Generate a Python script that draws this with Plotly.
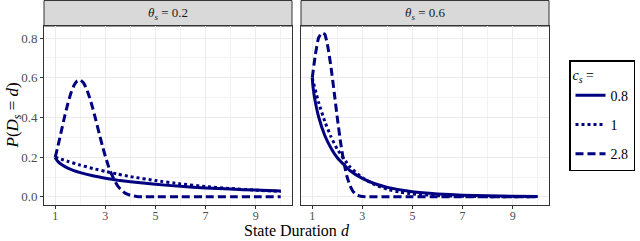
import plotly.graph_objects as go

# ---------------- data ----------------
# theta_s = 0.2 panel
d_l_08 = [1, 1.02, 1.05, 1.1, 1.25, 1.5, 2, 2.5, 3, 3.5, 4, 5, 6, 7, 8, 9, 10]
p_l_08 = [0.200, 0.193, 0.187, 0.179, 0.163, 0.145, 0.122, 0.106, 0.094, 0.084,
          0.076, 0.063, 0.053, 0.045, 0.039, 0.034, 0.029]
d_l_1 = [1, 1.5, 2, 2.5, 3, 3.5, 4, 5, 6, 7, 8, 9, 10]
p_l_1 = [0.200, 0.179, 0.160, 0.143, 0.128, 0.1145, 0.102, 0.082, 0.0655, 0.052,
         0.042, 0.034, 0.027]
d_l_28 = [1, 1.125, 1.25, 1.375, 1.5, 1.625, 1.75, 1.875, 2, 2.125, 2.25, 2.375,
          2.5, 2.625, 2.75, 2.875, 3, 3.125, 3.25, 3.375, 3.5, 3.625, 3.75, 3.875,
          4, 4.25, 4.5, 5, 6, 7, 8, 9, 10]
p_l_28 = [0.200, 0.266, 0.336, 0.406, 0.469, 0.523, 0.562, 0.584, 0.589, 0.575,
          0.544, 0.499, 0.445, 0.384, 0.321, 0.260, 0.204, 0.154, 0.113, 0.080,
          0.054, 0.036, 0.0225, 0.0137, 0.0079, 0.0024, 0.0006, 0, 0, 0, 0, 0, 0]

# theta_s = 0.6 panel
d_r_08 = [1, 1.02, 1.05, 1.1, 1.25, 1.5, 1.75, 2, 2.5, 3, 3.5, 4, 5, 6, 7, 8, 9, 10]
p_r_08 = [0.600, 0.567, 0.534, 0.493, 0.405, 0.309, 0.245, 0.197, 0.133, 0.093,
          0.066, 0.048, 0.026, 0.015, 0.0085, 0.005, 0.003, 0.0018]
d_r_1 = [1, 1.25, 1.5, 1.75, 2, 2.5, 3, 3.5, 4, 4.5, 5, 6, 7, 8, 9, 10]
p_r_1 = [0.600, 0.477, 0.380, 0.302, 0.240, 0.152, 0.096, 0.061, 0.038, 0.024,
         0.015, 0.006, 0.0025, 0.001, 0.0004, 0.0002]
d_r_28 = [1, 1.125, 1.25, 1.375, 1.5, 1.625, 1.75, 1.875, 2, 2.125, 2.25, 2.375,
          2.5, 2.625, 2.75, 2.875, 3, 3.25, 3.5, 4, 5, 6, 7, 8, 9, 10]
p_r_28 = [0.600, 0.718, 0.801, 0.826, 0.819, 0.754, 0.652, 0.527, 0.398, 0.279,
          0.181, 0.107, 0.058, 0.028, 0.012, 0.005, 0.0017, 0.0001, 0, 0, 0, 0,
          0, 0, 0, 0]

panel_titles = ["<i>θ<sub>s</sub></i> = 0.2", "<i>θ<sub>s</sub></i> = 0.6"]
legend_labels = ["0.8", "1", "2.8"]
x_ticks = [1, 3, 5, 7, 9]
y_ticks = [0.0, 0.2, 0.4, 0.6, 0.8]
y_tick_labels = ["0.0", "0.2", "0.4", "0.6", "0.8"]

# ---------------- figure ----------------
W, H = 640, 241
ml, mr, mt, mb = 44, 91, 26, 36
plot_w = W - ml - mr
plot_h = H - mt - mb
gap = 9
half = (plot_w - gap) / 2
dom_l = [0, half / plot_w]
dom_r = [(half + gap) / plot_w, 1]

NAVY = "#000080"
FONT = "Liberation Serif"
dashes = ["solid", "3px,3px", "8px,4px"]

fig = go.Figure()
series = [
    ("x", "y", d_l_08, p_l_08, 0, True),
    ("x", "y", d_l_1, p_l_1, 1, True),
    ("x", "y", d_l_28, p_l_28, 2, True),
    ("x2", "y2", d_r_08, p_r_08, 0, False),
    ("x2", "y2", d_r_1, p_r_1, 1, False),
    ("x2", "y2", d_r_28, p_r_28, 2, False),
]
for xa, ya, xs, ys, k, show in series:
    fig.add_trace(go.Scatter(
        x=xs, y=ys, xaxis=xa, yaxis=ya, mode="lines",
        line=dict(color=NAVY, width=3, dash=dashes[k], shape="spline", smoothing=0.4),
        name=legend_labels[k], legendgroup=legend_labels[k], showlegend=show,
    ))

grid_major = "#ebebeb"
axis_common = dict(
    showline=True, linecolor="#333333", linewidth=1, mirror=True,
    ticks="outside", ticklen=3, tickcolor="#333333", tickwidth=1,
    showgrid=True, gridcolor=grid_major, gridwidth=1, zeroline=False,
    automargin=False,
    tickfont=dict(family=FONT, size=13, color="#4d4d4d"),
)
xrange = [0.55, 10.45]
yrange = [-0.041, 0.861]
for name, dom in (("xaxis", dom_l), ("xaxis2", dom_r)):
    fig.layout[name] = dict(
        axis_common, domain=dom, range=xrange, tickvals=x_ticks,
        ticktext=[str(t) for t in x_ticks], ticklabelstandoff=-3,
        tickfont=dict(family=FONT, size=12, color="#4d4d4d"),
        minor=dict(tick0=0, dtick=2, showgrid=True, gridcolor="#f2f2f2", gridwidth=0.6),
        anchor="y" if name == "xaxis" else "y2",
    )
fig.layout["yaxis"] = dict(
    axis_common, domain=[0, 1], range=yrange, tickvals=y_ticks, ticktext=y_tick_labels,
    minor=dict(tick0=0.1, dtick=0.2, showgrid=True, gridcolor="#f2f2f2", gridwidth=0.6),
    anchor="x",
)
fig.layout["yaxis2"] = dict(
    axis_common, domain=[0, 1], range=yrange, tickvals=y_ticks, showticklabels=False,
    ticks="", matches="y",
    minor=dict(tick0=0.1, dtick=0.2, showgrid=True, gridcolor="#f2f2f2", gridwidth=0.6),
    anchor="x2",
)

# facet strips
strip_top = 1 + mt / plot_h
shapes = []
annotations = []
for dom, title in ((dom_l, panel_titles[0]), (dom_r, panel_titles[1])):
    shapes.append(dict(type="rect", xref="paper", yref="paper", x0=dom[0], x1=dom[1],
                       y0=1, y1=strip_top - 0.003, fillcolor="#d9d9d9",
                       line=dict(color="#333333", width=1), layer="below"))
    annotations.append(dict(xref="paper", yref="paper", x=(dom[0] + dom[1]) / 2,
                            y=(1 + strip_top) / 2, text=title, showarrow=False,
                            font=dict(family=FONT, size=13, color="#1a1a1a"),
                            xanchor="center", yanchor="middle"))

# axis titles
annotations.append(dict(xref="paper", yref="paper", x=0.5, y=-(mb - 0.5) / plot_h,
                        text="State Duration <i>d</i>", showarrow=False,
                        xanchor="center", yanchor="bottom",
                        font=dict(family=FONT, size=16, color="black")))
annotations.append(dict(xref="paper", yref="paper", x=-(ml - 0) / plot_w, y=0.5,
                        text="<i>P</i>(<i>D<sub>s</sub></i> = <i>d</i>)", showarrow=False,
                        textangle=-90, xanchor="left", yanchor="middle",
                        font=dict(family=FONT, size=17, color="black")))

fig.update_layout(
    template="none",
    width=W, height=H,
    font=dict(family=FONT, size=13, color="black"),
    margin=dict(l=ml, r=mr, t=mt, b=mb, pad=0, autoexpand=False),
    paper_bgcolor="white", plot_bgcolor="white",
    shapes=shapes, annotations=annotations,
    legend=dict(
        title=dict(text="<i>c<sub>s</sub></i> =", font=dict(family=FONT, size=14, color="black")),
        font=dict(family=FONT, size=14, color="black"),
        bordercolor="black", borderwidth=1.5, bgcolor="white",
        x=1 + 20 / plot_w, xanchor="left", y=0.5, yanchor="middle",
        itemwidth=30, tracegroupgap=8,
    ),
)

fig.write_html("out.html", config={"displayModeBar": False},
               post_script="document.body.style.margin='0';document.body.style.overflow='hidden';")
